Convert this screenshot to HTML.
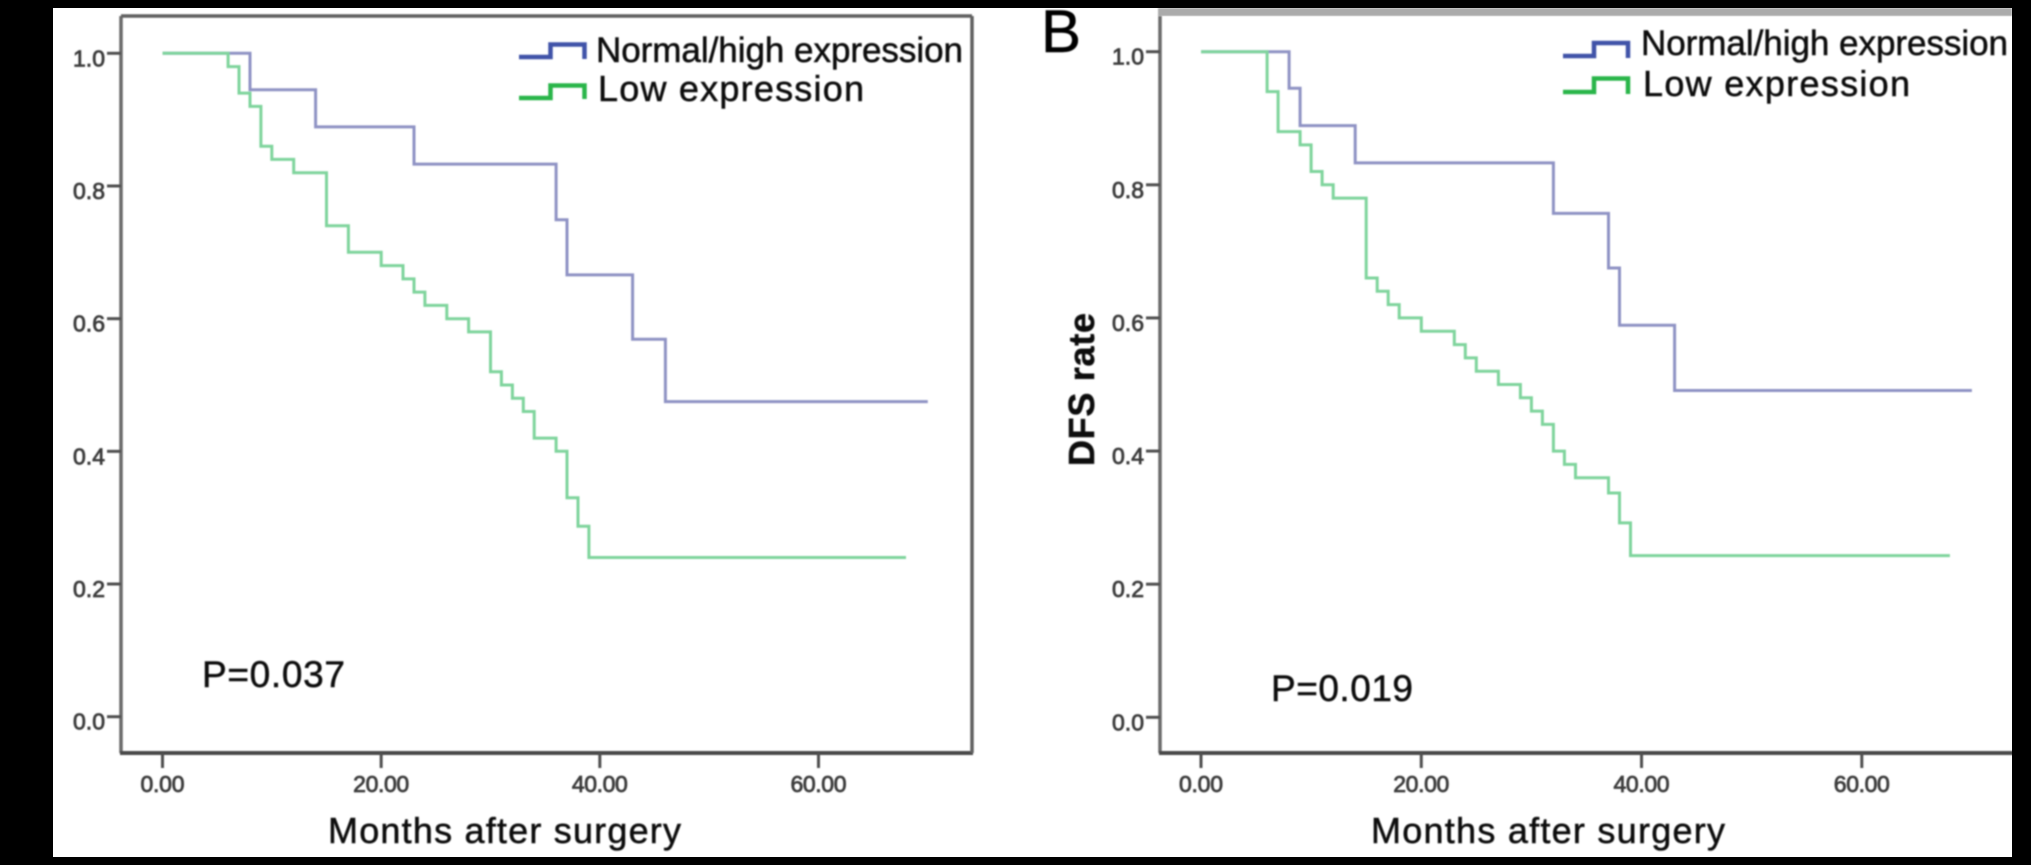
<!DOCTYPE html>
<html lang="en">
<head>
<meta charset="utf-8">
<title>Survival curves by expression level</title>
<style>
html,body{margin:0;padding:0;background:#000;width:2031px;height:865px;overflow:hidden}
svg{display:block}
text{font-family:"Liberation Sans",Arial,sans-serif}
</style>
</head>
<body>
<svg id="chart" xmlns="http://www.w3.org/2000/svg" width="2031" height="865" viewBox="0 0 2031 865">
  <defs>
    <filter id="soft" x="-5%" y="-5%" width="110%" height="110%"><feGaussianBlur stdDeviation="0.8"/></filter>
  </defs>
  <rect x="53" y="8" width="1959" height="849" fill="#ffffff"/>
  <rect x="1158" y="8" width="854" height="8" fill="#ababab" filter="url(#soft)"/>
  <g id="panelA" filter="url(#soft)"></g>
  <g id="panelB" filter="url(#soft)"></g>
  <g filter="url(#soft)" fill="#111" stroke="#111" stroke-width="0.5">
    <path d="M519 57H550.500V44.500H584.500V59" fill="none" stroke="#3f52a8" stroke-width="4.500"/>
    <path d="M519 98H550.500V85.500H584.500V99" fill="none" stroke="#2cb54a" stroke-width="4.500"/>
    <text x="596" y="62" font-size="35" textLength="367">Normal/high expression</text>
    <text x="598" y="101" font-size="36" textLength="266">Low expression</text>
    <text x="202" y="687" font-size="37" textLength="143">P=0.037</text>
    <text x="328" y="843" font-size="36" textLength="353">Months after surgery</text>

    <path d="M1563 56H1594V43H1628V58" fill="none" stroke="#3f52a8" stroke-width="4.500"/>
    <path d="M1563 92H1594V78.500H1628V94" fill="none" stroke="#2cb54a" stroke-width="4.500"/>
    <text x="1641" y="55" font-size="35" textLength="367">Normal/high expression</text>
    <text x="1643" y="96" font-size="36" textLength="267">Low expression</text>
    <text x="1271" y="701" font-size="37" textLength="142">P=0.019</text>
    <text x="1371" y="843" font-size="36" textLength="354">Months after surgery</text>
    <text x="1041" y="52" font-size="60" fill="#000" stroke="#000">B</text>
    <text transform="translate(1094,466) rotate(-90)" font-size="36" font-weight="bold" textLength="153">DFS rate</text>
  </g>
  <rect x="0" y="0" width="2031" height="8" fill="#000"/>
  <rect x="0" y="857" width="2031" height="8" fill="#000"/>
  <rect x="0" y="0" width="53" height="865" fill="#000"/>
  <rect x="2012" y="0" width="19" height="865" fill="#000"/>
</svg>
<script>
var yTickValues = [0, 0.2, 0.4, 0.6, 0.8, 1];
var yTickLabels = ["0.0", "0.2", "0.4", "0.6", "0.8", "1.0"];
var xTickValues = [0, 20, 40, 60];
var xTickLabels = ["0.00", "20.00", "40.00", "60.00"];

var normalMonthsA = [0, 8, 14, 23, 36, 37, 43, 46, 70];
var normalRateA = [1, 0.945, 0.889, 0.833, 0.749, 0.666, 0.569, 0.475, 0.475];
var lowMonthsA = [0, 6, 7, 8, 9, 10, 12, 15, 17, 20, 22, 23, 24, 26, 28, 30, 31, 32, 33, 34, 36, 37, 38, 39, 68];
var lowRateA = [1, 0.98, 0.94, 0.92, 0.86, 0.84, 0.82, 0.74, 0.70, 0.68, 0.66, 0.64, 0.62, 0.60, 0.58, 0.52, 0.50, 0.48, 0.46, 0.42, 0.40, 0.33, 0.287, 0.24, 0.24];

var normalMonthsB = [0, 8, 9, 14, 32, 37, 38, 43, 70];
var normalRateB = [1, 0.945, 0.889, 0.833, 0.757, 0.675, 0.589, 0.491, 0.491];
var lowMonthsB = [0, 6, 7, 9, 10, 11, 12, 15, 16, 17, 18, 20, 23, 24, 25, 27, 29, 30, 31, 32, 33, 34, 37, 38, 39, 68];
var lowRateB = [1, 0.94, 0.88, 0.86, 0.82, 0.80, 0.78, 0.66, 0.64, 0.62, 0.60, 0.58, 0.56, 0.54, 0.52, 0.50, 0.48, 0.46, 0.44, 0.40, 0.38, 0.36, 0.337, 0.292, 0.243, 0.243];

var NS = 'http://www.w3.org/2000/svg';

function make(tag, attrs, parent) {
  var el = document.createElementNS(NS, tag);
  for (var k in attrs) { el.setAttribute(k, attrs[k]); }
  parent.appendChild(el);
  return el;
}

function stepPath(months, rates, xScale, yScale) {
  var d = 'M' + xScale(months[0]).toFixed(1) + ' ' + yScale(rates[0]).toFixed(1);
  for (var i = 1; i < months.length; i++) {
    d += 'H' + xScale(months[i]).toFixed(1);
    d += 'V' + yScale(rates[i]).toFixed(1);
  }
  return d;
}

function drawPanel(group, frame, xScale, yScale, series) {
  var axisColor = '#505050';
  var axisLeft = make('line', {x1: frame.left, y1: frame.top, x2: frame.left, y2: frame.bottom, stroke: '#6a6a6a', 'stroke-width': 3.500}, group);
  
  
  var axisBottom = make('line', {x1: frame.left - 1, y1: frame.bottom, x2: frame.right + 1, y2: frame.bottom, stroke: '#484848', 'stroke-width': 4}, group);
  
  
  if (frame.boxed) {
    var top = make('line', {x1: frame.left, y1: frame.top, x2: frame.right, y2: frame.top, stroke: '#606060', 'stroke-width': 3.500}, group);
    
    
    var right = make('line', {x1: frame.right, y1: frame.top, x2: frame.right, y2: frame.bottom, stroke: '#606060', 'stroke-width': 3.500}, group);
    
    
  }
  yTickValues.forEach(function (v, i) {
    var y = yScale(v);
    var tick = make('line', {x1: frame.left - 14, y1: y, x2: frame.left, y2: y, stroke: axisColor, 'stroke-width': 3}, group);
    
    
    var label = make('text', {x: frame.left - 16, y: y + 13, 'font-size': 23, 'text-anchor': 'end', fill: '#3c3c3c', 'stroke': '#3c3c3c', 'stroke-width': 0.8}, group);
    
    
    label.textContent = yTickLabels[i];
  });
  xTickValues.forEach(function (v, i) {
    var x = xScale(v);
    var tick = make('line', {x1: x, y1: frame.bottom, x2: x, y2: frame.bottom + 15, stroke: axisColor, 'stroke-width': 3}, group);
    
    
    var label = make('text', {x: x, y: frame.bottom + 39, 'font-size': 23, 'text-anchor': 'middle', fill: '#3c3c3c', 'stroke': '#3c3c3c', 'stroke-width': 0.8, textLength: v === 0 ? 44 : 56}, group);
    
    
    label.textContent = xTickLabels[i];
  });
  series.forEach(function (s) {
    var path = make('path', {d: stepPath(s.months, s.rates, xScale, yScale), fill: 'none', stroke: s.color, 'stroke-width': 3}, group);
    
    
  });
}

function linear(d0, d1, r0, r1) {
  return function (v) { return r0 + (v - d0) * (r1 - r0) / (d1 - d0); };
}

drawPanel(
  document.getElementById('panelA'),
  {left: 121, right: 972, top: 16, bottom: 753, boxed: true},
  linear(0, 60, 162.5, 818.5),
  linear(0, 1, 716.7, 53.3),
  [
    {months: normalMonthsA, rates: normalRateA, color: '#8f93c4', name: 'normal-high-curve-a'},
    {months: lowMonthsA, rates: lowRateA, color: '#7fd49c', name: 'low-curve-a'}
  ]
);
drawPanel(
  document.getElementById('panelB'),
  {left: 1160, right: 2012, top: 16, bottom: 753, boxed: false},
  linear(0, 60, 1201, 1861.8),
  linear(0, 1, 717.3, 51.7),
  [
    {months: normalMonthsB, rates: normalRateB, color: '#8f93c4', name: 'normal-high-curve-b'},
    {months: lowMonthsB, rates: lowRateB, color: '#7fd49c', name: 'low-curve-b'}
  ]
);
</script>
</body>
</html>
